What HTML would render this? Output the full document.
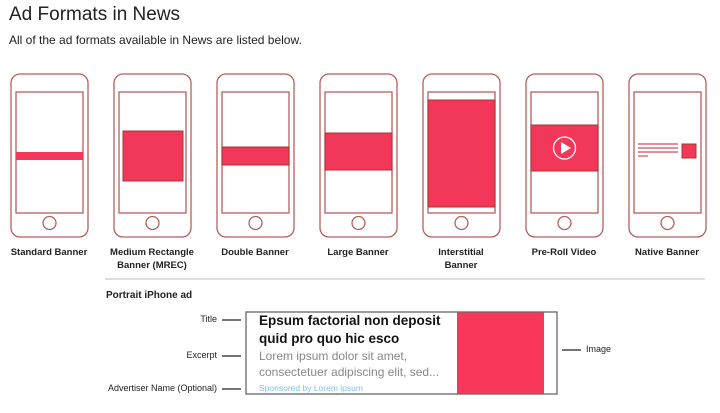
<!DOCTYPE html>
<html><head><style>
body{margin:0;width:720px;height:413px;background:#fff;font-family:"Liberation Sans",sans-serif;position:relative;overflow:hidden}
.a{position:absolute}
.lbl{position:absolute;font-size:9.5px;font-weight:bold;color:#222;text-align:center;width:110px;line-height:13px}
</style></head><body>
<div class="a" style="left:9px;top:4px;font-size:19px;color:#222">Ad Formats in News</div>
<div class="a" style="left:9px;top:33px;font-size:12px;color:#222">All of the ad formats available in News are listed below.</div>
<svg class="a" style="left:0;top:0" width="720" height="413">
<defs>
<g id="ph">
<rect x="0" y="0" width="77" height="163" rx="9" fill="none" stroke="#b5605e" stroke-width="1.3"/>
<rect x="5" y="18" width="67" height="121" fill="none" stroke="#b5605e" stroke-width="1.3"/>
<circle cx="38.5" cy="149" r="6.5" fill="none" stroke="#b5605e" stroke-width="1.3"/>
</g>
</defs>
<g transform="translate(11,74)"><use href="#ph"/><rect x="5" y="78" width="67" height="8" fill="#f2385a"/></g>
<g transform="translate(114,74)"><use href="#ph"/><rect x="9" y="57" width="60" height="50" fill="#f2385a" stroke="#a33" stroke-width="1"/></g>
<g transform="translate(217,74)"><use href="#ph"/><rect x="5" y="73" width="67" height="18" fill="#f2385a" stroke="#a33" stroke-width="1"/></g>
<g transform="translate(320,74)"><use href="#ph"/><rect x="5" y="59" width="67" height="37" fill="#f2385a" stroke="#a33" stroke-width="1"/></g>
<g transform="translate(423,74)"><use href="#ph"/><rect x="5" y="26" width="67" height="107" fill="#f2385a" stroke="#a33" stroke-width="1"/></g>
<g transform="translate(526,74)"><use href="#ph"/><rect x="5" y="51" width="67" height="46" fill="#f2385a" stroke="#a33" stroke-width="1"/>
<circle cx="38.5" cy="74" r="11" fill="none" stroke="#fff" stroke-width="1.3"/><path d="M35 68 L45 74 L35 80Z" fill="#fff"/></g>
<g transform="translate(629,74)"><use href="#ph"/>
<g stroke="#d84a5c" stroke-width="1.2"><line x1="9" y1="70" x2="49" y2="70"/><line x1="9" y1="74" x2="49" y2="74"/><line x1="9" y1="78" x2="49" y2="78"/><line x1="9" y1="82" x2="19" y2="82"/></g>
<rect x="53" y="70" width="14" height="14" fill="#f2385a" stroke="#a33" stroke-width="1"/></g>
<line x1="105" y1="279" x2="705" y2="279" stroke="#bbb" stroke-width="1"/>
<rect x="246" y="312" width="311" height="82" fill="#fff" stroke="#666" stroke-width="1.3"/>
<rect x="457" y="312.5" width="87" height="81" fill="#f8385a"/>
<g stroke="#222" stroke-width="1.2"><line x1="222" y1="320" x2="241" y2="320"/><line x1="222" y1="356" x2="241" y2="356"/><line x1="222" y1="389" x2="241" y2="389"/><line x1="562" y1="350" x2="581" y2="350"/></g>
</svg>
<div class="lbl" style="left:-6px;top:246px">Standard Banner</div>
<div class="lbl" style="left:97px;top:246px">Medium Rectangle<br>Banner (MREC)</div>
<div class="lbl" style="left:200px;top:246px">Double Banner</div>
<div class="lbl" style="left:303px;top:246px">Large Banner</div>
<div class="lbl" style="left:406px;top:246px">Interstitial<br>Banner</div>
<div class="lbl" style="left:509px;top:246px">Pre-Roll Video</div>
<div class="lbl" style="left:612px;top:246px">Native Banner</div>
<div class="a" style="left:106px;top:290px;font-size:10px;font-weight:bold;color:#222">Portrait iPhone ad</div>
<div class="a" style="right:503px;top:314px;font-size:9px;color:#222">Title</div>
<div class="a" style="right:503px;top:350px;font-size:9px;color:#222">Excerpt</div>
<div class="a" style="right:503px;top:383px;font-size:9px;color:#222">Advertiser Name (Optional)</div>
<div class="a" style="left:586px;top:344px;font-size:9px;color:#222">Image</div>
<div class="a" style="left:259px;top:312px;font-size:13.5px;font-weight:bold;color:#111;line-height:18px">Epsum factorial non deposit<br>quid pro quo hic esco</div>
<div class="a" style="left:259px;top:348px;font-size:12px;color:#888;line-height:16px">Lorem ipsum dolor sit amet,<br>consectetuer adipiscing elit, sed...</div>
<div class="a" style="left:259px;top:383px;font-size:8.5px;color:#7ec4ee">Sponsored by Lorem ipsum</div>
</body></html>
